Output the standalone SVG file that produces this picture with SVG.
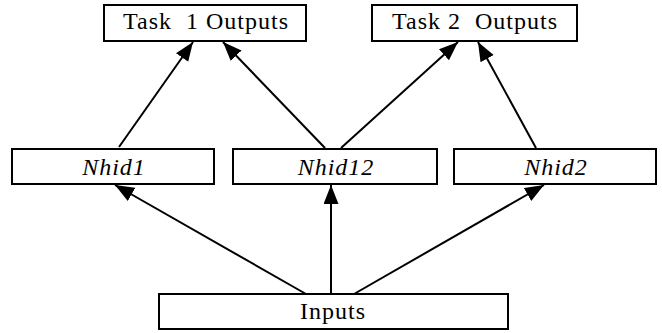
<svg xmlns="http://www.w3.org/2000/svg" width="662" height="333" viewBox="0 0 662 333">
  <style>
    .box { fill: #fff; stroke: #000; stroke-width: 2; }
    .lbl { font-family: "Liberation Serif", "Times New Roman", serif; font-size: 24px; letter-spacing: 1px; fill: #000; text-anchor: middle; }
    .it { font-style: italic; }
    .edge { stroke: #000; stroke-width: 2; fill: none; marker-end: url(#arrow); }
  </style>
  <defs>
    <marker id="arrow" markerUnits="userSpaceOnUse" markerWidth="20" markerHeight="16" refX="19" refY="7.5" orient="auto">
      <path d="M0,0 L19,7.5 L0,15 Z" fill="#000"/>
    </marker>
  </defs>

  <g id="connectors">
    <line class="edge" x1="119" y1="147" x2="193" y2="42"/>
    <line class="edge" x1="325" y1="148" x2="223" y2="42"/>
    <line class="edge" x1="341" y1="148" x2="458" y2="42"/>
    <line class="edge" x1="536" y1="148" x2="478" y2="42"/>
    <line class="edge" x1="306" y1="294" x2="115" y2="185"/>
    <line class="edge" x1="331" y1="294" x2="331" y2="185"/>
    <line class="edge" x1="354" y1="294" x2="544" y2="185"/>
  </g>

  <g id="task1">
    <rect class="box" x="104" y="5" width="202" height="36"/>
    <text class="lbl" x="206" y="29" xml:space="preserve">Task  1 Outputs</text>
  </g>
  <g id="task2">
    <rect class="box" x="372" y="5" width="205" height="36"/>
    <text class="lbl" x="475" y="29" xml:space="preserve">Task 2  Outputs</text>
  </g>
  <g id="nhid1">
    <rect class="box" x="12" y="149" width="202" height="35"/>
    <text class="lbl it" x="114" y="175">Nhid1</text>
  </g>
  <g id="nhid12">
    <rect class="box" x="233" y="149" width="204" height="35"/>
    <text class="lbl it" x="336" y="175">Nhid12</text>
  </g>
  <g id="nhid2">
    <rect class="box" x="454" y="149" width="202" height="35"/>
    <text class="lbl it" x="556" y="175">Nhid2</text>
  </g>
  <g id="inputs">
    <rect class="box" x="159" y="294" width="349" height="35"/>
    <text class="lbl" x="333" y="319">Inputs</text>
  </g>
</svg>
